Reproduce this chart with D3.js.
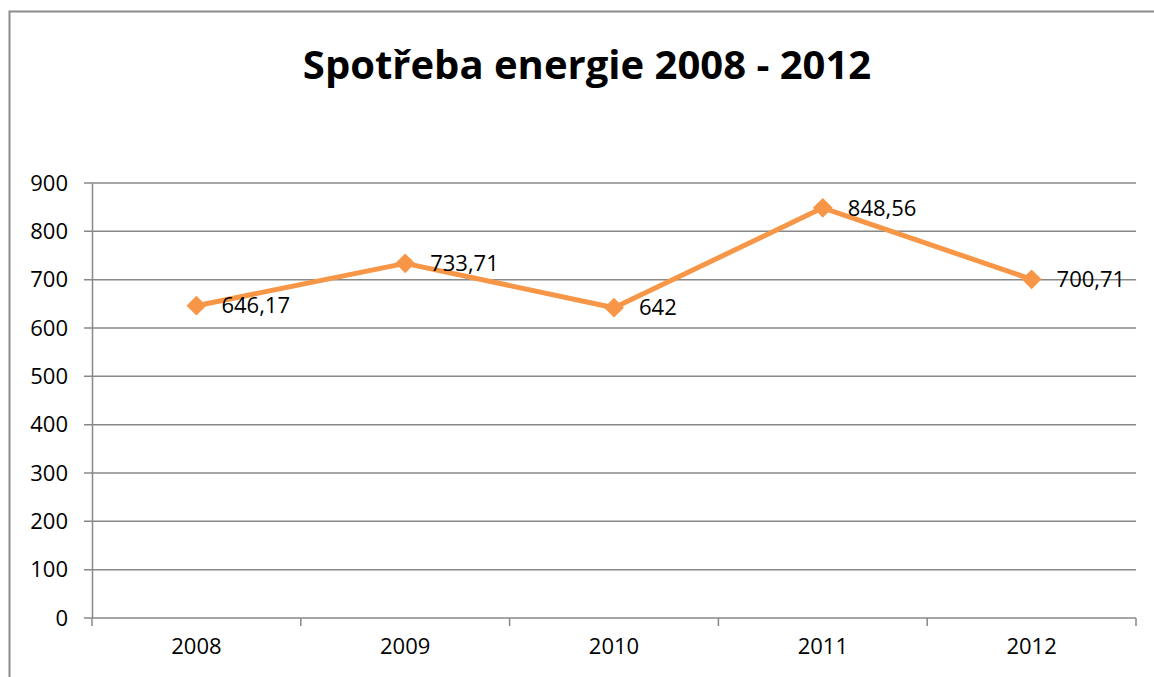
<!DOCTYPE html>
<html>
<head>
<meta charset="utf-8">
<script src="https://cdn.jsdelivr.net/npm/d3@7"></script>
<style>
  body{margin:0;background:#fff;}
  text{font-family:"Open Sans",sans-serif;fill:#000;}
</style>
</head>
<body>
<script>
const years=["2008","2009","2010","2011","2012"];
const consumption=[646.17,733.71,642,848.56,700.71];
const valueLabels=["646,17","733,71","642","848,56","700,71"];
const yTicks=[0,100,200,300,400,500,600,700,800,900];

const w=1154;
const h=677;
const margin={top:183,right:18,bottom:59,left:92};

const svg=d3.select("body").append("svg").attr("width",w).attr("height",h);

// chart border
svg.append("rect")
  .attr("x",9.5).attr("y",11.5)
  .attr("width",w+20).attr("height",h+20)
  .attr("fill","none").attr("stroke","#8c8c8c").attr("stroke-width",2);

svg.append("text")
  .text("Spotřeba energie 2008 - 2012")
  .attr("x",587).attr("y",79)
  .attr("text-anchor","middle")
  .style("font-size","40px")
  .style("font-weight","bold");

const xScale=d3.scaleBand().domain(years).range([margin.left,w-margin.right]);
const yScale=d3.scaleLinear().domain([0,900]).range([h-margin.bottom,margin.top]);

// gridlines
svg.append("g")
  .selectAll("line")
  .data(yTicks)
  .enter()
  .append("line")
  .attr("x1",margin.left-8)
  .attr("x2",w-margin.right)
  .attr("y1",d=>yScale(d))
  .attr("y2",d=>yScale(d))
  .attr("stroke","#888")
  .attr("stroke-width",1.5);

const yAxis=d3.axisLeft(yScale).tickValues(yTicks).tickSize(0).tickPadding(24);
const gy=svg.append("g").attr("transform",`translate(${margin.left},0)`).call(yAxis);
gy.select(".domain").attr("stroke","#888").attr("stroke-width",1.5);
gy.selectAll("text").style("font-size","22px").style("font-family","Open Sans");

const xAxis=d3.axisBottom(xScale).tickSize(0).tickPadding(20);
const gx=svg.append("g").attr("transform",`translate(0,${h-margin.bottom})`).call(xAxis);
gx.select(".domain").remove();
gx.selectAll("text").style("font-size","22px").style("font-family","Open Sans");

// category boundary ticks
const bounds=years.map(d=>xScale(d)).concat([w-margin.right]);
svg.append("g")
  .selectAll("line")
  .data(bounds)
  .enter()
  .append("line")
  .attr("x1",d=>d).attr("x2",d=>d)
  .attr("y1",h-margin.bottom).attr("y2",h-margin.bottom+8)
  .attr("stroke","#888").attr("stroke-width",1.5);

const cx=i=>xScale(years[i])+xScale.bandwidth()/2;

const line=d3.line().x((d,i)=>cx(i)).y(d=>yScale(d));
svg.append("path")
  .datum(consumption)
  .attr("d",line)
  .attr("fill","none")
  .attr("stroke","#F79646")
  .attr("stroke-width",5)
  .attr("stroke-linejoin","round");

svg.append("g")
  .selectAll("path")
  .data(consumption)
  .enter()
  .append("path")
  .attr("d",d3.symbol(d3.symbolSquare,196)())
  .attr("transform",(d,i)=>`translate(${cx(i)},${yScale(d)}) rotate(45)`)
  .attr("fill","#F79646");

svg.append("g")
  .selectAll("text")
  .data(consumption)
  .enter()
  .append("text")
  .text((d,i)=>valueLabels[i])
  .attr("x",(d,i)=>cx(i)+25)
  .attr("y",d=>yScale(d))
  .attr("dy","0.35em")
  .style("font-size","22px");
</script>
</body>
</html>
